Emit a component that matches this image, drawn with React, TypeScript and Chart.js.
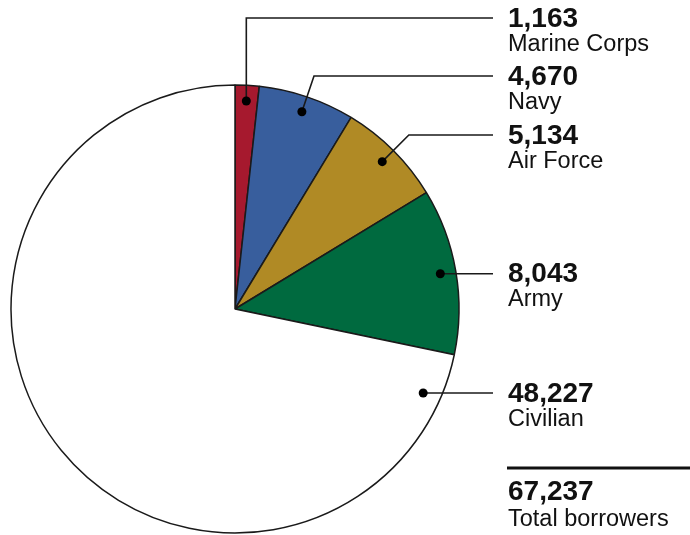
import React, { useEffect, useRef } from "react";
import { Chart, registerables } from "chart.js";

Chart.register(...registerables);

const categories = ["Marine Corps", "Navy", "Air Force", "Army", "Civilian"];
const values = [1163, 4670, 5134, 8043, 48227];
const colors = ["#A6192E", "#385E9D", "#B08A25", "#006A3F", "#FFFFFF"];
const totalLabel = "Total borrowers";

// layout of the callouts (pixels)
const numberBaselines = [27, 85, 144, 282, 402];
const leaderModes = ["vertical", "radial", "radial", "radial", "horizontal"];

const FONT = "'Liberation Sans', Arial, sans-serif";

const calloutPlugin = {
  id: "callouts",
  afterDatasetsDraw(chart: any) {
    const ctx = chart.ctx as CanvasRenderingContext2D;
    const meta = chart.getDatasetMeta(0);
    const textX = 508;
    const lineEndX = 493;
    ctx.save();
    meta.data.forEach((arc: any, i: number) => {
      const { x, y, startAngle, endAngle, outerRadius } = arc.getProps(
        ["x", "y", "startAngle", "endAngle", "outerRadius"],
        true
      );
      const mid = (startAngle + endAngle) / 2;
      const lineY = numberBaselines[i] - 9;
      let dx: number, dy: number;
      const mode = leaderModes[i];
      if (mode === "horizontal") {
        const r = outerRadius * 0.92;
        dy = lineY;
        dx = x + Math.sqrt(Math.max(r * r - (lineY - y) * (lineY - y), 0));
      } else {
        const r = outerRadius * 0.93;
        dx = x + Math.cos(mid) * r;
        dy = y + Math.sin(mid) * r;
      }
      let ex = dx;
      if (mode === "radial" && Math.abs(dy - lineY) > 2) {
        const t = (lineY - dy) / Math.sin(mid);
        ex = dx + t * Math.cos(mid);
      }
      ctx.strokeStyle = "#1a1a1a";
      ctx.lineWidth = 1.6;
      ctx.beginPath();
      ctx.moveTo(dx, dy);
      if (mode === "horizontal" || Math.abs(dy - lineY) <= 2) {
        ctx.lineTo(lineEndX, dy);
      } else {
        ctx.lineTo(ex, lineY);
        ctx.lineTo(lineEndX, lineY);
      }
      ctx.stroke();
      ctx.fillStyle = "#000";
      ctx.beginPath();
      ctx.arc(dx, dy, 4.5, 0, Math.PI * 2);
      ctx.fill();

      ctx.fillStyle = "#111";
      ctx.textAlign = "left";
      ctx.textBaseline = "alphabetic";
      ctx.font = `bold 28px ${FONT}`;
      ctx.fillText(values[i].toLocaleString("en-US"), textX, numberBaselines[i]);
      ctx.font = `23.5px ${FONT}`;
      ctx.fillText(categories[i], textX, numberBaselines[i] + 24);
    });

    const total = values.reduce((a, b) => a + b, 0);
    ctx.strokeStyle = "#111";
    ctx.lineWidth = 3;
    ctx.beginPath();
    ctx.moveTo(507, 468);
    ctx.lineTo(690, 468);
    ctx.stroke();
    ctx.fillStyle = "#111";
    ctx.font = `bold 28px ${FONT}`;
    ctx.fillText(total.toLocaleString("en-US"), textX, 500);
    ctx.font = `23.5px ${FONT}`;
    ctx.fillText(totalLabel, textX, 526);
    ctx.restore();
  },
};

export default function App() {
  const ref = useRef<HTMLCanvasElement>(null);
  useEffect(() => {
    document.body.style.margin = "0";
    const chart = new Chart(ref.current as HTMLCanvasElement, {
      type: "pie",
      data: {
        labels: categories,
        datasets: [
          {
            data: values,
            backgroundColor: colors,
            borderColor: "#1a1a1a",
            borderWidth: 1.5,
          },
        ],
      },
      options: {
        animation: false,
        responsive: false,
        radius: 224,
        layout: { padding: { left: 0, right: 220, top: 83, bottom: 0 } },
        plugins: {
          legend: { display: false },
          tooltip: { enabled: false },
        },
      } as any,
      plugins: [calloutPlugin],
    });
    return () => chart.destroy();
  }, []);
  return (
    <div style={{ width: 690, height: 535 }}>
      <canvas ref={ref} width={690} height={535} style={{ width: 690, height: 535 }} />
    </div>
  );
}
